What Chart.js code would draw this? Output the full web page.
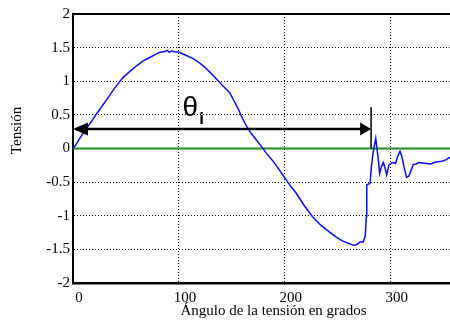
<!DOCTYPE html>
<html>
<head>
<meta charset="utf-8">
<script src="https://cdn.jsdelivr.net/npm/chart.js@4/dist/chart.umd.min.js"></script>
<style>
  html, body { margin:0; padding:0; background:#fff; overflow:hidden; }
  #wrap { width:450px; height:320px; position:relative; }
</style>
</head>
<body>
<div id="wrap"><canvas id="c"></canvas></div>
<script>
(() => {
  "use strict";

  // Ángulo (grados) / tensión
  const angleDeg = [
    0, 2, 6, 11, 16, 22, 27, 32, 39, 47, 54, 60, 66, 72, 78, 82, 86, 89, 91, 93,
    96, 100, 106, 113, 118, 123, 129, 135, 141, 148, 152, 156, 160, 164, 168, 173, 179, 183, 188, 194,
    201, 206, 211, 218, 226, 234, 242, 248, 254, 260, 265, 268, 271, 274, 276, 277, 277.4, 280.5, 281.8, 283.3,
    285.9, 288, 289.6, 291, 293, 294.3, 296.2, 298.4, 301.5, 304.7, 306.5, 308.8, 310.5, 312.5, 315, 317.2,
    321.3, 324, 326.6, 332, 337.7, 342.4, 348.6, 352, 356
  ];
  const tension = [
    0, 0.04, 0.14, 0.26, 0.37, 0.51, 0.62, 0.73, 0.89, 1.05, 1.15, 1.23, 1.30, 1.35, 1.40, 1.43, 1.44, 1.46, 1.43, 1.45,
    1.44, 1.43, 1.39, 1.34, 1.29, 1.23, 1.14, 1.04, 0.94, 0.83, 0.71, 0.59, 0.45, 0.33, 0.23, 0.13, 0.01, -0.08, -0.17, -0.30,
    -0.46, -0.57, -0.67, -0.84, -1.01, -1.14, -1.24, -1.31, -1.37, -1.41, -1.44, -1.43, -1.39, -1.39, -1.30, -1.01, -0.54, -0.52, -0.27, -0.07,
    0.15, -0.12, -0.37, -0.28, -0.21, -0.27, -0.39, -0.24, -0.21, -0.22, -0.12, -0.04, -0.12, -0.27, -0.43, -0.41,
    -0.24, -0.23, -0.21, -0.22, -0.23, -0.20, -0.19, -0.17, -0.13
  ];
  const zeroLineX = [0, 356];
  const zeroLineY = [0, 0];

  const xTicks = [0, 100, 200, 300];
  const yTicks = [-2, -1.5, -1, -0.5, 0, 0.5, 1, 1.5, 2];

  const xTitle = "Ángulo de la tensión en grados";
  const yTitle = "Tensión";

  // anotación θi
  const arrowFrom = 0, arrowTo = 281.5, arrowAt = 0.29, markerTop = 0.615;
  const thetaX = 103.5, thetaY = 0.48;

  const serif = "'Liberation Serif', 'Times New Roman', serif";
  Chart.defaults.font.family = serif;
  Chart.defaults.font.size = 15;
  Chart.defaults.color = "#000";

  const pts = (xs, ys) => xs.map((x, i) => ({ x, y: ys[i] }));

  const frame = {
    id: "frame",
    afterDatasetsDraw(chart){
      const { ctx, chartArea: a, scales: { x, y } } = chart;
      ctx.save();
      // borde superior
      ctx.strokeStyle = "#000";
      ctx.lineWidth = 2;
      ctx.beginPath();
      ctx.moveTo(a.left, a.top);
      ctx.lineTo(a.right, a.top);
      ctx.stroke();

      // flecha doble
      const x0 = x.getPixelForValue(arrowFrom);
      const x1 = x.getPixelForValue(arrowTo);
      const ya = y.getPixelForValue(arrowAt);
      ctx.lineWidth = 2.5;
      ctx.beginPath();
      ctx.moveTo(x0 + 8, ya);
      ctx.lineTo(x1 - 8, ya);
      ctx.stroke();
      ctx.fillStyle = "#000";
      ctx.beginPath();
      ctx.moveTo(x0, ya); ctx.lineTo(x0 + 15, ya - 6.5); ctx.lineTo(x0 + 15, ya + 6.5);
      ctx.closePath(); ctx.fill();
      ctx.beginPath();
      ctx.moveTo(x1, ya); ctx.lineTo(x1 - 11, ya - 6.5); ctx.lineTo(x1 - 11, ya + 6.5);
      ctx.closePath(); ctx.fill();

      // marcador vertical
      ctx.lineWidth = 1.5;
      ctx.beginPath();
      ctx.moveTo(x1, y.getPixelForValue(markerTop));
      ctx.lineTo(x1, y.getPixelForValue(0));
      ctx.stroke();

      // θi
      const tx = x.getPixelForValue(thetaX);
      const ty = y.getPixelForValue(thetaY);
      ctx.textBaseline = "alphabetic";
      ctx.textAlign = "left";
      ctx.font = "28px 'Liberation Sans', Arial, sans-serif";
      ctx.fillText("θ", tx, ty);
      const w = ctx.measureText("θ").width;
      ctx.font = "bold 17px 'Liberation Sans', Arial, sans-serif";
      ctx.fillText("i", tx + w + 1, ty + 8);

      // títulos de ejes (a la manera de MATLAB, algo desplazados)
      ctx.font = "15px " + serif;
      ctx.textAlign = "center";
      ctx.textBaseline = "middle";
      ctx.fillText(xTitle, (a.left + a.right) / 2 + 12, chart.height - 9);
      ctx.translate(17, (a.top + a.bottom) / 2 - 18);
      ctx.rotate(-Math.PI / 2);
      ctx.fillText(yTitle, 0, 0);
      ctx.restore();
    }
  };

  new Chart(document.getElementById("c"), {
    type: "scatter",
    data: {
      datasets: [
        {
          data: pts(angleDeg, tension),
          showLine: true,
          borderColor: "#0a0aff",
          borderWidth: 1.5,
          pointRadius: 0,
          tension: 0
        },
        {
          data: pts(zeroLineX, zeroLineY),
          showLine: true,
          borderColor: "#1e8c1e",
          borderWidth: 2,
          pointRadius: 0
        }
      ]
    },
    options: {
      responsive: true,
      maintainAspectRatio: false,
      animation: false,
      events: [],
      layout: { padding: { top: 14, left: 0, right: 0, bottom: 0 } },
      plugins: { legend: { display: false }, tooltip: { enabled: false } },
      scales: {
        x: {
          type: "linear",
          min: 0,
          max: zeroLineX[1],
          afterBuildTicks: s => { s.ticks = xTicks.map(v => ({ value: v })); },
          afterFit: s => { s.height = 37; },
          grid: { color: "#000", lineWidth: 1, drawTicks: false },
          border: { color: "#000", width: 2.5, dash: [1, 2] },
          ticks: {
            color: "#000",
            font: { family: serif, size: 15 },
            padding: 6,
            labelOffset: 6,
            maxRotation: 0,
            autoSkip: false,
            callback: v => String(v)
          }
        },
        y: {
          type: "linear",
          min: -2,
          max: 2,
          afterBuildTicks: s => { s.ticks = yTicks.map(v => ({ value: v })); },
          afterFit: s => { s.width = 73; },
          grid: { color: "#000", lineWidth: 1, drawTicks: false },
          border: { color: "#000", width: 2, dash: [1, 2] },
          ticks: {
            color: "#000",
            font: { family: serif, size: 15 },
            padding: 3,
            callback: v => String(v)
          }
        }
      }
    },
    plugins: [frame]
  });
})();
</script>
</body>
</html>
